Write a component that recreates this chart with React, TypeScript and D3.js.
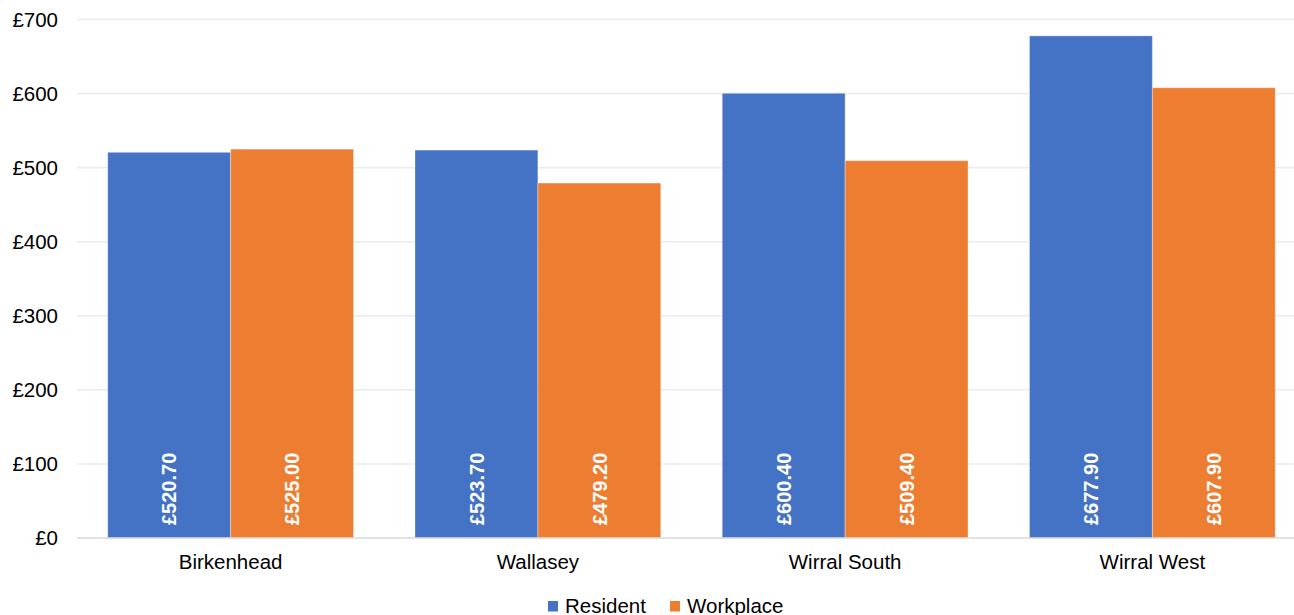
import React from "react";
import * as d3 from "d3";

const categories = ["Birkenhead", "Wallasey", "Wirral South", "Wirral West"];
const seriesNames = ["Resident", "Workplace"];
const residentValues = [520.7, 523.7, 600.4, 677.9];
const workplaceValues = [525.0, 479.2, 509.4, 607.9];
const yTicks = [0, 100, 200, 300, 400, 500, 600, 700];
const colors = ["#4472C4", "#ED7D31"];

const W = 1294;
const H = 615;
const FONT = "'Liberation Sans', Arial, sans-serif";

export default function App() {
  const x = d3
    .scaleBand<string>()
    .domain(categories)
    .range([77, 1306])
    .paddingInner(0.2)
    .paddingOuter(0.1);
  const xs = d3
    .scaleBand<string>()
    .domain(seriesNames)
    .range([0, x.bandwidth()]);
  const y = d3.scaleLinear().domain([0, 700]).range([538, 19.5]);
  const series = [residentValues, workplaceValues];
  const fmt = (v: number) => "£" + d3.format(".2f")(v);

  return (
    <svg
      width={W}
      height={H}
      style={{ position: "absolute", left: 0, top: 0, background: "#fff" }}
      fontFamily={FONT}
    >
      {yTicks.map((t) => (
        <g key={t}>
          {t > 0 && (
            <line x1={77} x2={W} y1={y(t)} y2={y(t)} stroke="#ebebeb" strokeWidth={1.5} />
          )}
          <text
            x={58}
            y={y(t)}
            dy="0.36em"
            textAnchor="end"
            fontSize={20.5}
            fill="#000"
          >
            {"£" + t}
          </text>
        </g>
      ))}

      {categories.map((c, i) => (
        <g key={c} transform={`translate(${x(c)},0)`}>
          {series.map((vals, s) => {
            const bx = xs(seriesNames[s])!;
            const bw = xs.bandwidth();
            const v = vals[i];
            return (
              <g key={s}>
                <rect
                  x={bx}
                  y={y(v)}
                  width={bw}
                  height={y(0) - y(v)}
                  fill={colors[s]}
                  stroke="#ffffff"
                  strokeOpacity={0.35}
                  strokeWidth={1}
                />
                <text
                  transform={`translate(${bx + bw / 2},${y(0) - 13}) rotate(-90)`}
                  dy="0.36em"
                  textAnchor="start"
                  fontSize={20}
                  fontWeight="bold"
                  fill="#fff"
                >
                  {fmt(v)}
                </text>
              </g>
            );
          })}
          <text
            x={x.bandwidth() / 2}
            y={569}
            textAnchor="middle"
            fontSize={20.5}
            fill="#000"
          >
            {c}
          </text>
        </g>
      ))}

      <line x1={77} x2={W} y1={y(0)} y2={y(0)} stroke="#d9d9d9" strokeWidth={1.5} />

      {seriesNames.map((n, s) => {
        const lx = s === 0 ? 548 : 670;
        return (
          <g key={n}>
            <rect x={lx} y={601} width={10} height={10.5} fill={colors[s]} />
            <text x={lx + 17} y={612.5} fontSize={20.5} fill="#000">
              {n}
            </text>
          </g>
        );
      })}
    </svg>
  );
}
